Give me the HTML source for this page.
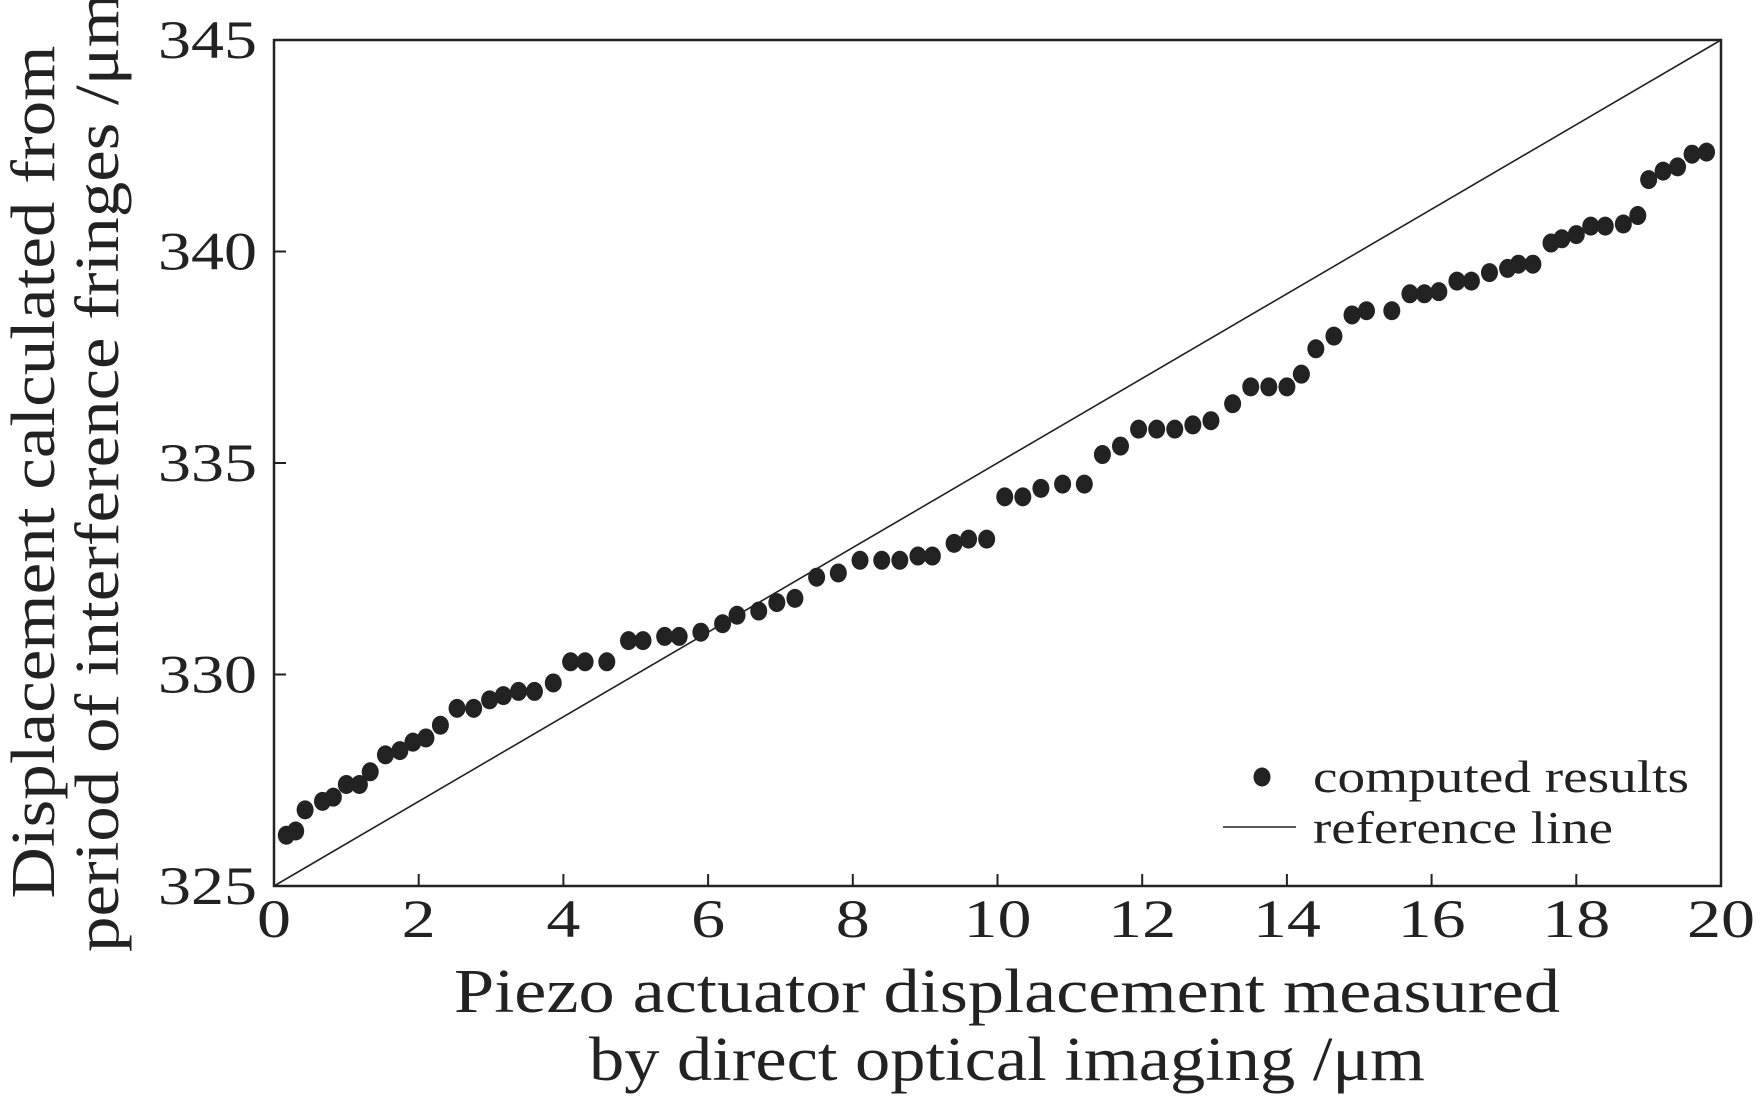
<!DOCTYPE html>
<html><head><meta charset="utf-8"><style>
html,body{margin:0;padding:0;background:#fff;}
svg{display:block;font-family:"Liberation Serif","DejaVu Serif",serif;}
</style></head><body>
<svg id="chart" width="1760" height="1104" viewBox="0 0 1760 1104" xmlns="http://www.w3.org/2000/svg">
<rect x="274" y="40" width="1447" height="846" fill="none" stroke="#222" stroke-width="2.5"/>
<g id="ticks"></g>
<g id="refline"></g>
<g id="points"></g>
<text x="1007" y="1012" font-size="62" text-anchor="middle" fill="#222" textLength="1106" lengthAdjust="spacingAndGlyphs">Piezo actuator displacement measured</text>
<text x="1007" y="1080" font-size="62" text-anchor="middle" fill="#222" textLength="836" lengthAdjust="spacingAndGlyphs">by direct optical imaging /μm</text>
<g transform="translate(54,472) rotate(-90)">
<text x="0" y="0" font-size="62" text-anchor="middle" fill="#222" textLength="853" lengthAdjust="spacingAndGlyphs">Displacement calculated from</text>
<text x="0" y="64" font-size="62" text-anchor="middle" fill="#222" textLength="960" lengthAdjust="spacingAndGlyphs">period of interference fringes /μm</text>
</g>
<g>
<ellipse cx="1262" cy="777" rx="8.5" ry="9.5" fill="#222"/>
<text x="1313" y="792" font-size="46" fill="#222" textLength="376" lengthAdjust="spacingAndGlyphs">computed results</text>
<line x1="1223" y1="827" x2="1296" y2="827" stroke="#222" stroke-width="1.6"/>
<text x="1313" y="843" font-size="46" fill="#222" textLength="300" lengthAdjust="spacingAndGlyphs">reference line</text>
</g>
</svg>
<script>
const xs = [0.17,0.3,0.43,0.67,0.82,1.0,1.18,1.33,1.54,1.74,1.92,2.1,2.3,2.53,2.76,2.98,3.17,3.38,3.6,3.86,4.1,4.3,4.6,4.9,5.1,5.4,5.6,5.9,6.2,6.4,6.7,6.95,7.2,7.5,7.8,8.1,8.4,8.65,8.9,9.1,9.4,9.6,9.85,10.1,10.35,10.6,10.9,11.2,11.45,11.7,11.95,12.2,12.45,12.7,12.95,13.25,13.5,13.75,14.0,14.2,14.4,14.65,14.9,15.1,15.45,15.7,15.9,16.1,16.35,16.55,16.8,17.05,17.2,17.4,17.65,17.8,18.0,18.2,18.4,18.65,18.85,19.0,19.2,19.4,19.6,19.8];
const ys = [326.2,326.3,326.8,327.0,327.1,327.4,327.4,327.7,328.1,328.2,328.4,328.5,328.8,329.2,329.2,329.4,329.5,329.6,329.6,329.8,330.3,330.3,330.3,330.8,330.8,330.9,330.9,331.0,331.2,331.4,331.5,331.7,331.8,332.3,332.4,332.7,332.7,332.7,332.8,332.8,333.1,333.2,333.2,334.2,334.2,334.4,334.5,334.5,335.2,335.4,335.8,335.8,335.8,335.9,336.0,336.4,336.8,336.8,336.8,337.1,337.7,338.0,338.5,338.6,338.6,339.0,339.0,339.05,339.3,339.3,339.5,339.6,339.7,339.7,340.2,340.3,340.4,340.6,340.6,340.65,340.85,341.7,341.9,342.0,342.3,342.35];
const refX = [0,20];
const refY = [325,345];
const xTicks = [0,2,4,6,8,10,12,14,16,18,20];
const yTicks = [325,330,335,340,345];
const X0=274,X1=1721,Y0=886,Y1=40;
function sx(v){return X0+(v-0)/(20-0)*(X1-X0);}
function sy(v){return Y0-(v-325)/(345-325)*(Y0-Y1);}
const NS="http://www.w3.org/2000/svg";
const tg=document.getElementById('ticks');
xTicks.forEach(t=>{
  const l=document.createElementNS(NS,'line');
  l.setAttribute('x1',sx(t));l.setAttribute('x2',sx(t));l.setAttribute('y1',Y0);l.setAttribute('y2',Y0-12);
  l.setAttribute('stroke','#222');l.setAttribute('stroke-width','2');
  
  
  tg.appendChild(l);
  const tx=document.createElementNS(NS,'text');
  tx.setAttribute('x',sx(t));tx.setAttribute('y',937);tx.setAttribute('font-size','54');
  tx.setAttribute('text-anchor','middle');tx.setAttribute('fill','#222');
  tx.setAttribute('textLength', String(t).length*34);
  tx.setAttribute('lengthAdjust','spacingAndGlyphs');
  tx.textContent=t;
  
  
  tg.appendChild(tx);
});
yTicks.forEach(t=>{
  const l=document.createElementNS(NS,'line');
  l.setAttribute('x1',X0);l.setAttribute('x2',X0+12);l.setAttribute('y1',sy(t));l.setAttribute('y2',sy(t));
  l.setAttribute('stroke','#222');l.setAttribute('stroke-width','2');
  
  
  tg.appendChild(l);
  const tx=document.createElementNS(NS,'text');
  tx.setAttribute('x',257);tx.setAttribute('y',sy(t)+18);tx.setAttribute('font-size','54');
  tx.setAttribute('text-anchor','end');tx.setAttribute('fill','#222');
  tx.setAttribute('textLength','99');
  tx.setAttribute('lengthAdjust','spacingAndGlyphs');
  tx.textContent=t;
  
  
  tg.appendChild(tx);
});
const rl=document.createElementNS(NS,'line');
rl.setAttribute('x1',sx(refX[0]));rl.setAttribute('y1',sy(refY[0]));
rl.setAttribute('x2',sx(refX[1]));rl.setAttribute('y2',sy(refY[1]));
rl.setAttribute('stroke','#222');rl.setAttribute('stroke-width','1.6');


document.getElementById('refline').appendChild(rl);
const pg=document.getElementById('points');
xs.forEach((x,i)=>{
  const e=document.createElementNS(NS,'ellipse');
  e.setAttribute('cx',sx(x));e.setAttribute('cy',sy(ys[i]));
  e.setAttribute('rx','8.5');e.setAttribute('ry','9.5');e.setAttribute('fill','#222');
  
  
  pg.appendChild(e);
});
</script>
</body></html>
